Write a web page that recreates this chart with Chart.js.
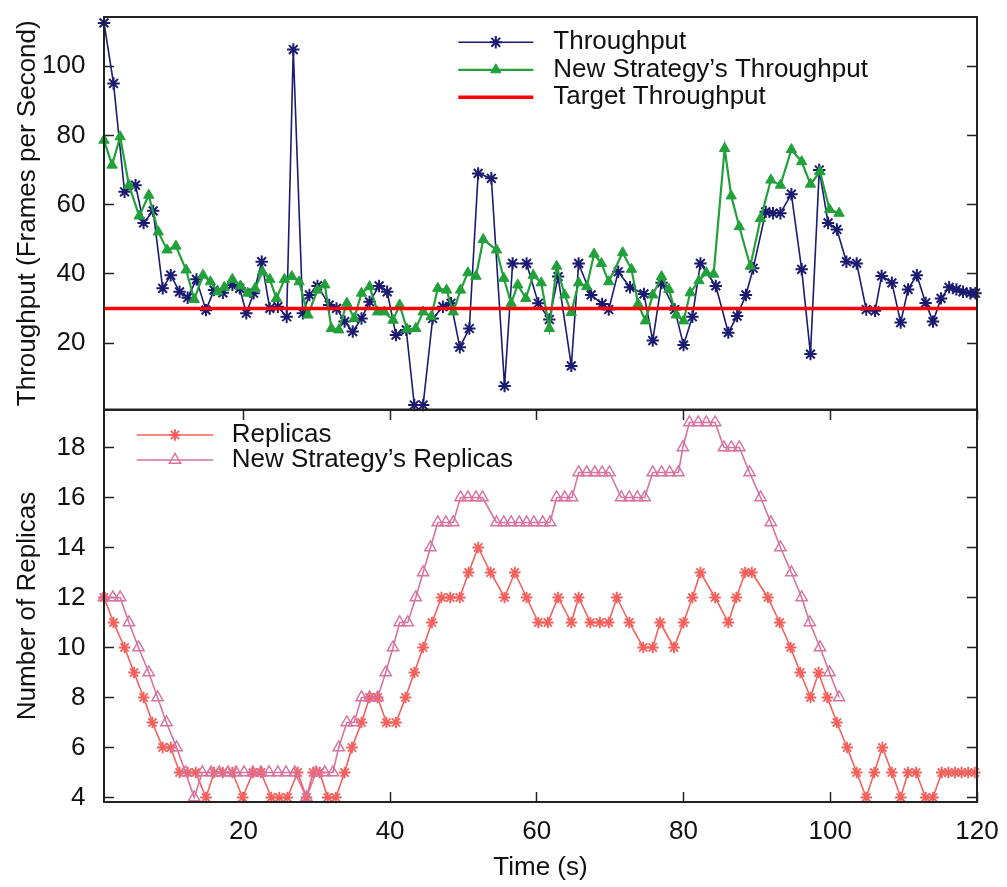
<!DOCTYPE html>
<html>
<head>
<meta charset="utf-8">
<title>Throughput and replicas over time</title>
<script src="https://cdn.jsdelivr.net/npm/chart.js"></script>
<style>
  html, body { margin: 0; padding: 0; background: #fff; }
  #wrap { position: relative; width: 1007px; height: 887px; }
  canvas { position: absolute; left: 0; }
  #fps { top: 0; }
  #replicas { top: 400px; }
</style>
</head>
<body>
<div id="wrap">
  <canvas id="fps" width="1007" height="420"></canvas>
  <canvas id="replicas" width="1007" height="487"></canvas>
</div>
<script>
// measured throughput (time in s, frames per second)
const fpsTimes = [1.0, 2.3, 3.8, 5.3, 6.4, 7.7, 9.0, 10.1, 11.3, 12.4,
  13.6, 14.9, 16.0, 17.2, 18.5, 19.5, 20.4, 21.4, 22.5, 23.6,
  24.7, 25.9, 26.8, 28.1, 29.0, 30.1, 31.7, 32.7, 33.8, 34.9,
  36.1, 37.2, 38.5, 39.6, 40.8, 42.2, 43.3, 44.5, 45.8, 47.2,
  48.3, 49.5, 50.8, 52.0, 53.8, 55.6, 56.7, 58.6, 60.2, 61.7,
  62.9, 64.7, 65.7, 67.4, 68.9, 69.8, 71.1, 72.7, 74.6, 75.8,
  77.0, 78.8, 80.0, 81.2, 82.3, 84.4, 86.1, 87.3, 88.5, 89.5,
  91.2, 92.2, 93.2, 94.7, 96.1, 97.3, 98.5, 99.7, 100.9, 102.2,
  103.6, 104.9, 106.1, 107.0, 108.4, 109.6, 110.6, 111.8, 113.0, 114.0,
  115.1, 116.2, 117.2, 118.1, 119.1, 119.8];
const fpsValues = [112.5, 95.0, 63.7, 65.6, 54.7, 58.2, 35.8, 39.6, 34.8, 33.1,
  38.4, 29.5, 35.3, 34.5, 36.8, 35.8, 28.6, 34.4, 43.5, 30.0,
  30.5, 27.6, 104.8, 28.6, 33.9, 36.5, 31.0, 30.0, 26.2, 23.3,
  27.1, 31.9, 36.5, 34.8, 22.3, 23.8, 2.1, 2.1, 27.1, 30.5,
  31.5, 18.8, 24.2, 69.0, 67.6, 7.6, 43.0, 43.0, 31.5, 26.8,
  39.2, 13.4, 43.0, 33.9, 31.3, 29.7, 40.6, 36.1, 34.2, 20.7,
  37.4, 29.7, 19.4, 27.6, 43.0, 36.5, 23.0, 27.8, 33.9, 41.6,
  57.9, 57.5, 57.5, 63.0, 41.3, 16.8, 70.0, 54.7, 52.8, 43.5,
  43.0, 29.7, 29.3, 39.4, 37.4, 25.9, 35.5, 39.6, 31.6, 26.2,
  32.9, 36.1, 35.5, 34.8, 34.4, 34.4];

const newFpsTimes = [1.0, 2.1, 3.2, 4.4, 5.8, 7.1, 8.4, 9.6, 10.8, 12.2,
  13.3, 14.5, 15.5, 16.5, 17.4, 18.5, 19.6, 20.6, 21.6, 22.6,
  23.6, 24.5, 25.6, 26.6, 27.6, 28.8, 30.1, 31.1, 32.0, 33.0,
  34.1, 35.1, 36.1, 37.2, 38.3, 39.2, 40.4, 41.3, 42.3, 43.5,
  44.5, 45.6, 46.5, 47.7, 48.6, 49.6, 50.6, 51.7, 52.7, 54.5,
  55.5, 56.5, 57.4, 58.5, 59.5, 60.6, 61.7, 62.7, 63.8, 64.7,
  65.7, 66.8, 67.8, 68.8, 69.8, 71.7, 72.9, 73.8, 74.8, 75.8,
  77.0, 78.0, 79.0, 80.0, 80.9, 82.1, 83.1, 84.1, 85.6, 86.5,
  87.6, 89.1, 90.5, 91.9, 93.2, 94.7, 96.1, 97.3, 98.6, 99.9,
  101.2];
const newFpsValues = [78.6, 71.4, 79.6, 65.6, 56.7, 62.7, 52.1, 46.9, 48.0, 41.1,
  32.6, 39.6, 37.7, 34.8, 36.1, 38.4, 36.5, 34.4, 35.8, 40.6,
  38.4, 32.9, 38.4, 39.2, 37.7, 28.1, 35.3, 36.8, 24.2, 23.8,
  31.5, 27.1, 34.4, 36.3, 29.0, 29.0, 26.6, 31.0, 24.0, 24.2,
  29.0, 27.6, 35.8, 35.3, 29.0, 35.3, 40.3, 39.3, 49.9, 46.9,
  38.7, 31.5, 36.8, 32.9, 39.6, 37.4, 24.2, 42.2, 33.9, 28.8,
  37.4, 36.3, 45.7, 43.0, 37.7, 46.1, 41.3, 31.3, 26.4, 33.9,
  39.2, 35.5, 28.1, 26.4, 34.5, 38.0, 40.3, 39.9, 76.2, 62.5,
  53.6, 42.2, 56.0, 67.1, 65.6, 75.9, 72.4, 65.9, 69.5, 58.6,
  57.5];

const targetTimes = [1, 120];
const targetValues = [30, 30];

// replica counts (time in s, number of replicas)
const replicaTimes = [1.0, 2.3, 3.8, 5.1, 6.4, 7.6, 9.0, 10.1, 11.3, 12.4,
  13.5, 14.9, 16.0, 17.2, 18.5, 19.9, 21.3, 22.4, 23.8, 24.9,
  26.0, 27.4, 28.6, 29.5, 30.4, 31.5, 32.6, 33.8, 34.8, 36.1,
  37.2, 38.3, 39.5, 40.8, 42.1, 43.3, 44.5, 45.7, 47.0, 48.2,
  49.5, 50.7, 52.0, 53.7, 55.6, 57.0, 58.6, 60.2, 61.5, 62.9,
  64.7, 65.7, 67.3, 68.6, 69.8, 70.9, 72.6, 74.5, 75.8, 76.8,
  78.7, 80.0, 81.2, 82.3, 84.3, 86.1, 87.2, 88.4, 89.3, 91.5,
  93.1, 94.6, 95.9, 97.3, 98.4, 99.6, 100.9, 102.3, 103.6, 104.9,
  106.0, 107.1, 108.4, 109.6, 110.6, 111.7, 113.0, 114.0, 115.2, 116.1,
  117.0, 117.9, 118.8, 119.7];
const replicaCounts = [12, 11, 10, 9, 8, 7, 6, 6, 5, 5,
  5, 4, 5, 5, 5, 4, 5, 5, 4, 4,
  4, 5, 4, 5, 5, 4, 4, 5, 6, 7,
  8, 8, 7, 7, 8, 9, 10, 11, 12, 12,
  12, 13, 14, 13, 12, 13, 12, 11, 11, 12,
  11, 12, 11, 11, 11, 12, 11, 10, 10, 11,
  10, 11, 12, 13, 12, 11, 12, 13, 13, 12,
  11, 10, 9, 8, 9, 8, 7, 6, 5, 4,
  5, 6, 5, 4, 5, 5, 4, 4, 5, 5,
  5, 5, 5, 5];

const newReplicaTimes = [1.0, 2.2, 3.2, 4.4, 5.7, 7.1, 8.3, 9.5, 10.9, 12.1,
  13.3, 14.4, 15.6, 16.7, 17.9, 19.0, 20.1, 21.3, 22.4, 23.5,
  24.7, 25.8, 27.0, 28.6, 29.9, 31.1, 32.2, 33.0, 34.1, 35.1,
  36.1, 37.2, 38.3, 39.4, 40.4, 41.3, 42.4, 43.5, 44.5, 45.5,
  46.5, 47.6, 48.6, 49.6, 50.6, 51.7, 52.6, 54.5, 55.5, 56.5,
  57.6, 58.6, 59.6, 60.8, 61.8, 62.7, 63.8, 64.8, 65.7, 66.8,
  67.9, 68.9, 69.9, 71.5, 72.6, 73.7, 74.7, 75.8, 77.0, 78.1,
  79.3, 79.9, 80.8, 82.0, 83.1, 84.3, 85.5, 86.5, 87.6, 89.0,
  90.5, 91.9, 93.2, 94.7, 96.1, 97.2, 98.6, 99.9, 101.2];
const newReplicaCounts = [12, 12, 12, 11, 10, 9, 8, 7, 6, 5,
  4, 5, 5, 5, 5, 5, 5, 5, 5, 5,
  5, 5, 5, 4, 5, 5, 5, 6, 7, 7,
  8, 8, 8, 9, 10, 11, 11, 12, 13, 14,
  15, 15, 15, 16, 16, 16, 16, 15, 15, 15,
  15, 15, 15, 15, 15, 16, 16, 16, 17, 17,
  17, 17, 17, 16, 16, 16, 16, 17, 17, 17,
  17, 18, 19, 19, 19, 19, 18, 18, 18, 17,
  16, 15, 14, 13, 12, 11, 10, 9, 8];

// axes
const timeRange = [1, 120];
const fpsRange = [0.8, 114.2];
const replicaRange = [3.82, 19.5];
const timeTicks = [20, 40, 60, 80, 100, 120];
const fpsTicks = [20, 40, 60, 80, 100];
const replicaTicks = [4, 6, 8, 10, 12, 14, 16, 18];

const FONT = '"Liberation Sans", Arial, Helvetica, sans-serif';
Chart.defaults.font.family = FONT;
Chart.defaults.font.size = 26;
Chart.defaults.color = '#111';

const points = (xs, ys) => xs.map((x, i) => ({ x, y: ys[i] }));
const fixedTicks = values => scale => { scale.ticks = values.map(value => ({ value })); };

// pin axis boxes to a given size so both panels line up
const boxSize = (w, h) => scale => {
  if (w !== null) scale.width = w;
  if (h !== null) scale.height = h;
  scale.paddingLeft = scale.paddingRight = scale.paddingTop = scale.paddingBottom = 0;
};

// gnuplot-like tick marks pointing into the plot
const inward = { drawOnChartArea: false, drawTicks: true, tickLength: -10, tickWidth: 1.5, tickColor: '#222' };

const framePlugin = {
  id: 'frame',
  afterDraw(chart) {
    const { ctx, chartArea: a } = chart;
    ctx.save();
    ctx.strokeStyle = '#222';
    ctx.lineWidth = 2;
    ctx.strokeRect(a.left, a.top, a.right - a.left, a.bottom - a.top);
    ctx.restore();
  }
};

// key with a line sample and the marker in its middle
const keyPlugin = {
  id: 'seriesKey',
  afterDraw(chart, args, opts) {
    const { ctx } = chart;
    ctx.save();
    ctx.font = '26px ' + FONT;
    ctx.textBaseline = 'middle';
    chart.data.datasets.forEach((ds, i) => {
      const y = opts.top + i * opts.row;
      const x0 = opts.left;
      const x1 = opts.left + opts.length;
      ctx.strokeStyle = ds.borderColor;
      ctx.lineWidth = ds.borderWidth;
      ctx.beginPath();
      ctx.moveTo(x0, y);
      ctx.lineTo(x1, y);
      ctx.stroke();
      if (ds.pointRadius > 0) {
        ctx.strokeStyle = ds.pointBorderColor;
        ctx.fillStyle = ds.pointBackgroundColor;
        ctx.lineWidth = ds.pointBorderWidth;
        Chart.helpers.drawPoint(ctx, {
          pointStyle: ds.pointStyle, radius: ds.pointRadius,
          borderWidth: ds.pointBorderWidth, rotation: 0
        }, (x0 + x1) / 2, y);
      }
      ctx.fillStyle = '#111';
      ctx.fillText(ds.label, x1 + opts.gap, y);
    });
    ctx.restore();
  }
};

const base = {
  responsive: false,
  animation: false,
  devicePixelRatio: 1,
  events: [],
  layout: { autoPadding: false },
  plugins: { legend: { display: false }, tooltip: { enabled: false } }
};

const NAVY = '#1b1b72';
const GREEN = '#22a03a';
const RED = '#ff0000';
const SALMON = '#f4615d';
const PINK = '#d8729e';

new Chart(document.getElementById('fps'), {
  type: 'line',
  data: {
    datasets: [{
      label: 'Throughput',
      data: points(fpsTimes, fpsValues),
      borderColor: NAVY, borderWidth: 1.6,
      pointStyle: 'star', pointRadius: 6.2, pointBorderWidth: 2,
      pointBorderColor: NAVY, pointBackgroundColor: NAVY,
      clip: false, order: 3
    }, {
      label: 'New Strategy’s Throughput',
      data: points(newFpsTimes, newFpsValues),
      borderColor: GREEN, borderWidth: 2.2,
      pointStyle: 'triangle', pointRadius: 6, pointBorderWidth: 1,
      pointBorderColor: GREEN, pointBackgroundColor: GREEN,
      clip: false, order: 2
    }, {
      label: 'Target Throughput',
      data: points(targetTimes, targetValues),
      borderColor: RED, borderWidth: 3.5,
      pointRadius: 0,
      clip: false, order: 1
    }]
  },
  options: {
    ...base,
    layout: { autoPadding: false, padding: { left: 0, right: 30, top: 17, bottom: 10.5 } },
    scales: {
      x: {
        type: 'linear', min: timeRange[0], max: timeRange[1], display: false,
        afterFit: boxSize(null, 0)
      },
      y: {
        position: 'left', min: fpsRange[0], max: fpsRange[1],
        afterBuildTicks: fixedTicks(fpsTicks),
        afterFit: boxSize(104, null),
        ticks: { padding: 28.5 },
        grid: inward,
        border: { display: false },
        title: { display: true, text: 'Throughput (Frames per Second)', padding: { top: 12 } }
      },
      yMirror: {
        position: 'right', min: fpsRange[0], max: fpsRange[1],
        afterBuildTicks: fixedTicks(fpsTicks),
        afterFit: boxSize(0, null),
        ticks: { display: false },
        grid: inward,
        border: { display: false }
      }
    },
    plugins: {
      ...base.plugins,
      seriesKey: { left: 458.3, length: 75, gap: 20, top: 42.3, row: 27.5 }
    }
  },
  plugins: [framePlugin, keyPlugin]
});

new Chart(document.getElementById('replicas'), {
  type: 'line',
  data: {
    datasets: [{
      label: 'Replicas',
      data: points(replicaTimes, replicaCounts),
      borderColor: SALMON, borderWidth: 1.6,
      pointStyle: 'star', pointRadius: 5.8, pointBorderWidth: 1.9,
      pointBorderColor: SALMON, pointBackgroundColor: SALMON,
      clip: false, order: 2
    }, {
      label: 'New Strategy’s Replicas',
      data: points(newReplicaTimes, newReplicaCounts),
      borderColor: PINK, borderWidth: 1.6,
      pointStyle: 'triangle', pointRadius: 6.6, pointBorderWidth: 1.4,
      pointBorderColor: PINK, pointBackgroundColor: 'rgba(255,255,255,0)',
      clip: false, order: 1
    }]
  },
  options: {
    ...base,
    layout: { autoPadding: false, padding: { left: 0, right: 30, top: 10, bottom: 0 } },
    scales: {
      x: {
        type: 'linear', position: 'bottom', min: timeRange[0], max: timeRange[1],
        afterBuildTicks: fixedTicks(timeTicks),
        afterFit: boxSize(null, 85),
        ticks: { padding: 24.4, maxRotation: 0 },
        grid: inward,
        border: { display: false },
        title: { display: true, text: 'Time (s)', padding: { bottom: 4 } }
      },
      xMirror: {
        type: 'linear', position: 'top', min: timeRange[0], max: timeRange[1],
        afterBuildTicks: fixedTicks(timeTicks),
        afterFit: boxSize(null, 0),
        ticks: { display: false },
        grid: inward,
        border: { display: false }
      },
      y: {
        position: 'left', min: replicaRange[0], max: replicaRange[1],
        afterBuildTicks: fixedTicks(replicaTicks),
        afterFit: boxSize(104, null),
        ticks: { padding: 28.5 },
        grid: inward,
        border: { display: false },
        title: { display: true, text: 'Number of Replicas', padding: { top: 12 } }
      },
      yMirror: {
        position: 'right', min: replicaRange[0], max: replicaRange[1],
        afterBuildTicks: fixedTicks(replicaTicks),
        afterFit: boxSize(0, null),
        ticks: { display: false },
        grid: inward,
        border: { display: false }
      }
    },
    plugins: {
      ...base.plugins,
      seriesKey: { left: 136.7, length: 76.6, gap: 18.4, top: 35, row: 25 }
    }
  },
  plugins: [framePlugin, keyPlugin]
});
</script>
</body>
</html>
